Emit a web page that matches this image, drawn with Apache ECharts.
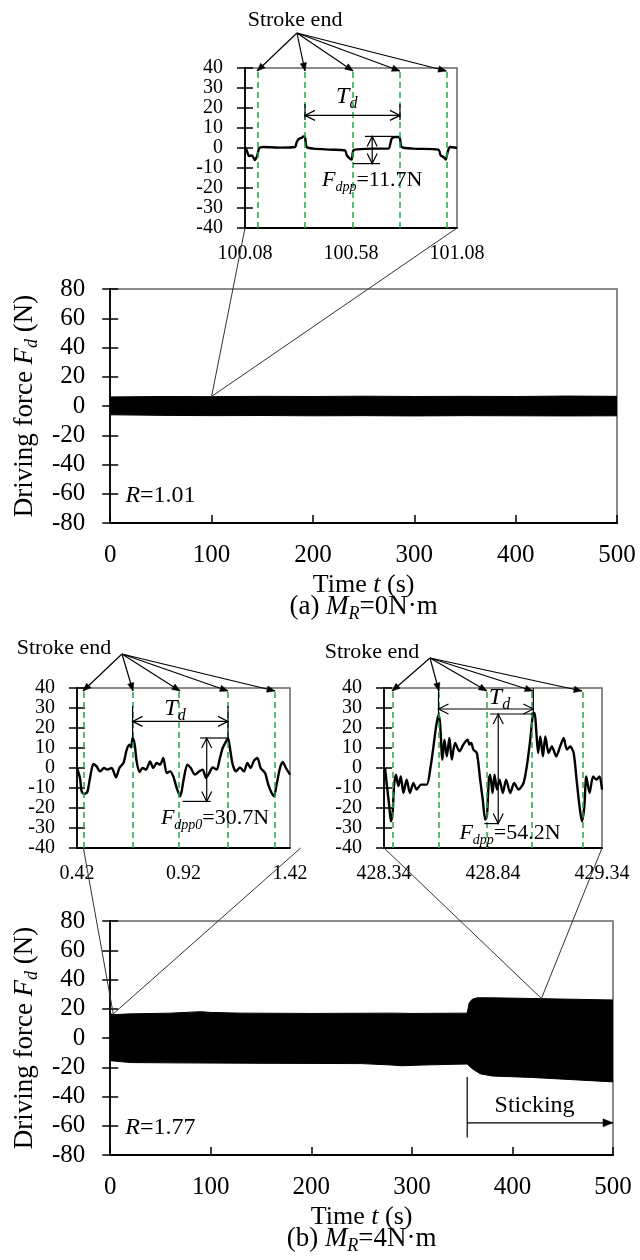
<!DOCTYPE html>
<html>
<head>
<meta charset="utf-8">
<script src="https://cdn.jsdelivr.net/npm/echarts@6/dist/echarts.min.js"></script>
<style>
  html, body { margin: 0; padding: 0; background: #fff; }
  #main { width: 640px; height: 1260px; }
</style>
</head>
<body>
<div id="main"></div>
<script>
var FONT = '"Liberation Serif", "Times New Roman", Times, serif';

// ---- inset (a): t = 100.08 .. 101.08 s ----
var zoomATime  = [100.08, 100.088, 100.099, 100.112, 100.127, 100.138, 100.147, 100.166, 100.245, 100.316,
                  100.324, 100.336, 100.347, 100.355, 100.363, 100.371, 100.402, 100.481, 100.552, 100.56,
                  100.575, 100.583, 100.591, 100.607, 100.685, 100.756, 100.772, 100.788, 100.803, 100.811,
                  100.819, 100.874, 100.992, 101.003, 101.016, 101.027, 101.036, 101.047, 101.08];
var zoomAForce = [0, -1.2, -4, -3.7, -6, -3.7, 0, 0.5, 0.2, 0.5,
                  3, 4.7, 5, 5.8, 5.5, 0.5, -0.3, -0.8, -1.2, -3.7,
                  -5.3, -5.8, -1.2, -0.7, -0.3, -0.3, 4.7, 5.5, 5.5, 4.7,
                  0.5, -0.3, -0.8, -3.7, -4.5, -5.8, -2, 0.5, 0];
var strokeA = [100.137, 100.363, 100.59, 100.811, 101.03];
var labelsA = [100.08, 100.58, 101.08];

// ---- inset (b) left: t = 0.42 .. 1.42 s ----
var zoomB0Time  = [0.42, 0.434, 0.442, 0.453, 0.4685, 0.481, 0.497, 0.512, 0.528, 0.547,
                   0.562, 0.583, 0.603, 0.619, 0.638, 0.653, 0.666, 0.674, 0.681, 0.691,
                   0.700, 0.713, 0.728, 0.744, 0.763, 0.778, 0.794, 0.810, 0.825, 0.841,
                   0.857, 0.872, 0.888, 0.904, 0.911, 0.922, 0.938, 0.954, 0.974, 0.993,
                   1.010, 1.026, 1.041, 1.057, 1.076, 1.091, 1.104, 1.120, 1.129, 1.138,
                   1.151, 1.167, 1.185, 1.204, 1.220, 1.235, 1.251, 1.267, 1.282, 1.303,
                   1.318, 1.334, 1.345, 1.357, 1.373, 1.386, 1.401, 1.42];
var zoomB0Force = [0, -5, -11.7, -13, -12, -5, 2, 0.8, -1.7, 0,
                   -0.8, 0, -4.7, 0, 2.5, 9, 11.7, 10.3, 15, 11.7,
                   3.3, -2, 0, -0.8, 3.3, 0, 2.5, 1.7, 5, -2.5,
                   -1.7, -4.2, -10, -14, -11.7, -5, 1.7, 0, -3.3, -1.7,
                   -0.8, -5, -2.5, 0.3, -0.8, 5, 10, 13.3, 15, 10,
                   1.7, -1.7, 0.3, -1.7, 2.5, 0, 3.7, 5, 0, -2.5,
                   -8.3, -12.5, -14, -8.3, 0, 3, 0, -3.3];
var strokeB0 = [0.448, 0.683, 0.904, 1.129, 1.35];
var labelsB0 = [0.42, 0.92, 1.42];

// ---- inset (b) right: t = 428.34 .. 429.34 s ----
var zoomB1Time  = [428.345, 428.352, 428.363, 428.372, 428.380, 428.386, 428.395, 428.406, 428.417, 428.429,
                   428.444, 428.459, 428.475, 428.490, 428.510, 428.536, 428.554, 428.567, 428.579, 428.590,
                   428.597, 428.608, 428.617, 428.628, 428.640, 428.651, 428.666, 428.686, 428.704, 428.723,
                   428.732, 428.740, 428.750, 428.766, 428.781, 428.793, 428.804, 428.812, 428.821, 428.827,
                   428.838, 428.847, 428.858, 428.870, 428.885, 428.900, 428.919, 428.937, 428.957, 428.980,
                   428.995, 429.011, 429.023, 429.031, 429.038, 429.047, 429.057, 429.069, 429.080, 429.095,
                   429.110, 429.130, 429.148, 429.164, 429.179, 429.194, 429.210, 429.225, 429.237, 429.248,
                   429.259, 429.268, 429.283, 429.299, 429.314, 429.329, 429.34];
var zoomB1Force = [0, -7.5, -18, -26.7, -21.7, -9, -3.3, -9, -4.2, -12.5,
                   -5.8, -12.5, -7.5, -10.8, -8.3, -8.3, 0.8, 10.8, 20.8, 26.7,
                   22.5, 4.2, 14.2, 5.8, 15, 4.2, 12.5, 8.3, 11.7, 14.2,
                   11.7, 12.5, 9.2, 7.5, -5.8, -15.8, -25.8, -24.2, -5.8, -3.3,
                   -12.5, -3.3, -10.8, -5.8, -12.5, -5.8, -12.5, -7.5, -10.8, -7.5,
                   0.8, 14.2, 26.7, 27.5, 19.2, 7.5, 15.8, 5.8, 15.8, 7.5,
                   10.8, 5.8, 10.8, 15, 9.2, 10.8, 7.5, -7.5, -19.2, -26.7,
                   -19.2, -4.2, -12.5, -4.2, -5.8, -4.2, -10.8];
var strokeB1 = [428.377, 428.592, 428.812, 429.023, 429.248];
var labelsB1 = [428.34, 428.84, 429.34];

// ---- full records: envelope of the oscillating force ----
var envATime  = [0, 50, 100, 150, 200, 250, 300, 350, 400, 450, 500];
var envAUpper = [6.2, 6.5, 6.4, 6.6, 6.5, 6.7, 6.5, 6.6, 6.5, 6.8, 6.6];
var envALower = [-6.0, -6.4, -6.6, -6.5, -6.7, -6.6, -6.8, -6.6, -6.7, -6.8, -6.7];

var envBUpperTime = [0, 5, 20, 60, 90, 100, 130, 200, 280, 300, 355, 357, 360, 365, 380, 420, 460, 500];
var envBUpper     = [16.5, 16, 16.5, 17, 18, 17.5, 17, 16.8, 17, 16.8, 17, 24, 26.5, 27.5, 27.5, 27, 26.5, 26];
var envBLowerTime = [0, 20, 60, 150, 250, 280, 290, 310, 340, 355, 360, 368, 380, 420, 460, 500];
var envBLower     = [-15.5, -16.8, -17, -17.3, -17.5, -18.5, -19, -18.5, -18, -17.8, -21, -24.5, -26, -27, -28.5, -30];

function pairs(xs, ys) {
    return xs.map(function (x, i) { return [x, ys[i]]; });
}

function rich(fs) {
    return {
        i: { fontFamily: FONT, fontSize: fs, fontStyle: 'italic', color: '#000', lineHeight: fs + 6 },
        s: { fontFamily: FONT, fontSize: Math.round(fs * 0.65), fontStyle: 'italic', color: '#000',
             verticalAlign: 'bottom', lineHeight: Math.round(fs * 0.55) }
    };
}

var grids = [
    { left: 245, top: 68, width: 212, height: 160 },
    { left: 103, top: 289, width: 514, height: 234 },
    { left: 77, top: 688, width: 213, height: 160 },
    { left: 384, top: 688, width: 218, height: 160 },
    { left: 99, top: 921, width: 514, height: 234 }
].map(function (g) {
    g.show = true;
    g.borderColor = '#666';
    g.borderWidth = 1.5;
    g.containLabel = false;
    return g;
});

var axisLineStyle = { color: '#000', width: 1.8 };

function insetX(g, labels) {
    return {
        type: 'value', gridIndex: g, min: labels[0], max: labels[2],
        axisLine: { show: true, onZero: false, lineStyle: axisLineStyle },
        axisTick: { show: false },
        splitLine: { show: false },
        axisLabel: {
            customValues: labels, fontFamily: FONT, fontSize: 20, color: '#000', margin: 16,
            formatter: function (v) { return v.toFixed(2); }
        }
    };
}

function mainX(g) {
    return {
        type: 'value', gridIndex: g, min: 0, max: 500, interval: 100,
        axisLine: { show: true, onZero: false, lineStyle: axisLineStyle },
        axisTick: { inside: true, length: 8, lineStyle: { color: '#000', width: 1.5 } },
        splitLine: { show: false },
        axisLabel: { fontFamily: FONT, fontSize: 25, color: '#000', margin: 20 },
        name: 'Time {i|t} (s)', nameLocation: 'middle', nameGap: 46,
        nameTextStyle: { fontFamily: FONT, fontSize: 26, color: '#000', lineHeight: 30, rich: rich(26) }
    };
}

// two y axes per grid so the ticks cross the axis line
function yPair(g, lim, step, fs, margin, name) {
    var a = {
        type: 'value', gridIndex: g, position: 'left', min: -lim, max: lim, interval: step,
        axisLine: { show: true, onZero: false, lineStyle: axisLineStyle },
        axisTick: { show: true, length: 8, lineStyle: { color: '#000', width: 1.5 } },
        splitLine: { show: false },
        axisLabel: { fontFamily: FONT, fontSize: fs, color: '#000', margin: margin }
    };
    if (name) {
        a.name = 'Driving force {i|F}{s|d} (N)';
        a.nameLocation = 'middle';
        a.nameRotate = 90;
        a.nameGap = 57;
        a.nameTextStyle = { fontFamily: FONT, fontSize: 27, color: '#000', lineHeight: 33, rich: rich(27) };
    }
    var b = {
        type: 'value', gridIndex: g, position: 'left', min: -lim, max: lim, interval: step,
        axisLine: { show: false, onZero: false },
        axisTick: { show: true, inside: true, length: 8, lineStyle: { color: '#000', width: 1.5 } },
        splitLine: { show: false },
        axisLabel: { show: false }
    };
    return [a, b];
}

var yAxes = [].concat(
    yPair(0, 40, 10, 20, 22, false),
    yPair(1, 80, 20, 25, 25, true),
    yPair(2, 40, 10, 20, 22, false),
    yPair(3, 40, 10, 20, 22, false),
    yPair(4, 80, 20, 25, 25, true)
);

function strokeLines(times) {
    return {
        silent: true, symbol: ['none', 'none'], animation: false,
        label: { show: false },
        lineStyle: { color: '#1fa64a', type: [6, 4], width: 1.5 },
        data: times.map(function (t) { return { xAxis: t }; })
    };
}

function trace(g, xs, ys, strokes) {
    return {
        type: 'line', xAxisIndex: g, yAxisIndex: 2 * g, data: pairs(xs, ys),
        symbol: 'none', smooth: 0.25, clip: true,
        lineStyle: { color: '#000', width: 2.4 },
        markLine: strokeLines(strokes)
    };
}

function band(g, xs, ys) {
    return {
        type: 'line', xAxisIndex: g, yAxisIndex: 2 * g, data: pairs(xs, ys),
        symbol: 'none', lineStyle: { color: '#000', width: 1 },
        areaStyle: { color: '#000', opacity: 1 }
    };
}

var option = {
    animation: false,
    backgroundColor: '#fff',
    grid: grids,
    xAxis: [insetX(0, labelsA), mainX(1), insetX(2, labelsB0), insetX(3, labelsB1), mainX(4)],
    yAxis: yAxes,
    series: [
        trace(0, zoomATime, zoomAForce, strokeA),
        band(1, envATime, envAUpper),
        band(1, envATime, envALower),
        trace(2, zoomB0Time, zoomB0Force, strokeB0),
        trace(3, zoomB1Time, zoomB1Force, strokeB1),
        band(4, envBUpperTime, envBUpper),
        band(4, envBLowerTime, envBLower)
    ]
};

var chart = echarts.init(document.getElementById('main'));
chart.setOption(option);

// ---- annotations, placed in data coordinates of each grid ----
function P(g, x, y) {
    return chart.convertToPixel({ xAxisIndex: g, yAxisIndex: 2 * g }, [x, y]);
}

function seg(a, b, w, c) {
    return {
        type: 'line', z: 100, silent: true,
        shape: { x1: a[0], y1: a[1], x2: b[0], y2: b[1] },
        style: { stroke: c || '#000', lineWidth: w || 1.2 }
    };
}

function head(a, b, size, open) {
    var dx = b[0] - a[0], dy = b[1] - a[1];
    var len = Math.sqrt(dx * dx + dy * dy);
    var ux = dx / len, uy = dy / len, w = size * (open ? 0.5 : 0.4);
    var p1 = [b[0] - ux * size - uy * w, b[1] - uy * size + ux * w];
    var p2 = [b[0] - ux * size + uy * w, b[1] - uy * size - ux * w];
    if (open) {
        return { type: 'polyline', z: 100, silent: true, shape: { points: [p1, b, p2] },
                 style: { stroke: '#000', lineWidth: 1.2, fill: null } };
    }
    return { type: 'polygon', z: 100, silent: true, shape: { points: [p1, b, p2] },
             style: { fill: '#000', stroke: '#000', lineWidth: 0.5 } };
}

function dbl(a, b) {
    return [seg(a, b, 1.2), head(a, b, 10, true), head(b, a, 10, true)];
}

function txt(p, s, fs, align) {
    return {
        type: 'text', z: 101, silent: true, x: p[0], y: p[1],
        style: {
            text: s, fontFamily: FONT, fontSize: fs, fill: '#000', lineHeight: fs + 6,
            align: align || 'center', verticalAlign: 'middle', rich: rich(fs)
        }
    };
}

var ann = [];

// "Stroke end" pointers
[
    [0, strokeA, [100.325, 57.5], [100.316, 64]],
    [2, strokeB0, [0.631, 57], [0.359, 60]],
    [3, strokeB1, [428.551, 55], [428.285, 58]]
].forEach(function (s) {
    var o = P(s[0], s[2][0], s[2][1]);
    s[1].forEach(function (t) {
        var tip = P(s[0], t, 38.5);
        ann.push(seg(o, tip, 1.2));
        ann.push(head(o, tip, 8, false));
    });
    ann.push(txt(P(s[0], s[3][0], s[3][1]), 'Stroke end', 22));
});

// T_d spans
[
    [0, 100.363, 100.811, 16.3, 22, 14, [100.56, 25.5]],
    [2, 0.681, 1.129, 23.3, 31, 15, [0.88, 29.5]],
    [3, 428.59, 429.025, 29.5, 40, 27, [428.87, 35]]
].forEach(function (d) {
    var g = d[0];
    ann.push(seg(P(g, d[1], d[4]), P(g, d[1], d[5]), 1.2));
    ann.push(seg(P(g, d[2], d[4]), P(g, d[2], d[5]), 1.2));
    ann = ann.concat(dbl(P(g, d[1], d[3]), P(g, d[2], d[3])));
    ann.push(txt(P(g, d[6][0], d[6][1]), '{i|T}{s|d}', 24));
});

// peak-to-peak markers
[
    [0, 100.68, 5.8, -7.8, [100.646, 100.78], [100.59, 100.717], [100.68, -16], '{i|F}{s|dpp}=11.7N'],
    [2, 1.029, 15, -16.7, [0.998, 1.129], [0.916, 1.048], [1.068, -25], '{i|F}{s|dpp0}=30.7N'],
    [3, 428.864, 27, -27.8, [428.827, 429.03], [428.80, 428.864], [428.918, -32.5], '{i|F}{s|dpp}=54.2N']
].forEach(function (d) {
    var g = d[0];
    ann.push(seg(P(g, d[4][0], d[2]), P(g, d[4][1], d[2]), 1.2));
    ann.push(seg(P(g, d[5][0], d[3]), P(g, d[5][1], d[3]), 1.2));
    ann = ann.concat(dbl(P(g, d[1], d[2]), P(g, d[1], d[3])));
    ann.push(txt(P(g, d[6][0], d[6][1]), d[7], 22));
});

// lines from the full record to each inset
[
    [1, [100, 6.5], 0, [100.08, -40], [101.08, -40]],
    [4, [3, 16.5], 2, [0.45, -40], [1.47, -40]],
    [4, [428.84, 27], 3, [428.34, -40], [429.34, -40]]
].forEach(function (c) {
    var o = P(c[0], c[1][0], c[1][1]);
    ann.push(seg(o, P(c[2], c[3][0], c[3][1]), 1, '#333'));
    ann.push(seg(o, P(c[2], c[4][0], c[4][1]), 1, '#333'));
});

// R values
ann.push(txt(P(1, 15, -61), '{i|R}=1.01', 24, 'left'));
ann.push(txt(P(4, 15, -61), '{i|R}=1.77', 24, 'left'));

// sticking region
ann.push(seg(P(4, 355, -26.7), P(4, 355, -68), 1.2));
ann.push(seg(P(4, 355, -58), P(4, 500, -58), 1.2));
ann.push(head(P(4, 355, -58), P(4, 500, -58), 10, false));
ann.push(txt(P(4, 422, -46), 'Sticking', 24));

// captions
var capA = P(1, 250, -80), capB = P(4, 250, -80);
ann.push(txt([capA[0], capA[1] + 84], '(a) {i|M}{s|R}=0N\u00b7m', 27));
ann.push(txt([capB[0], capB[1] + 84], '(b) {i|M}{s|R}=4N\u00b7m', 27));

chart.setOption({ graphic: { elements: ann } });
</script>
</body>
</html>
